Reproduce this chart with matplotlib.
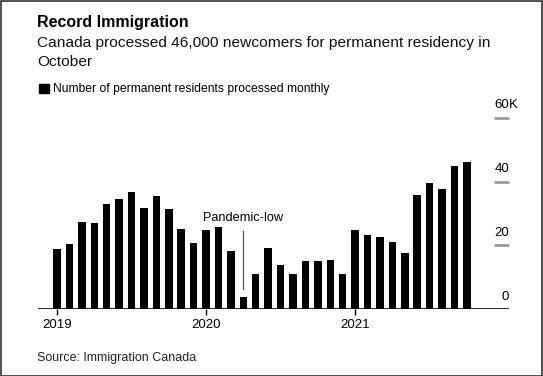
import numpy as np
import matplotlib.pyplot as plt
from matplotlib.patches import Rectangle

plt.rcParams['font.family'] = ['Liberation Sans', 'DejaVu Sans']

# monthly permanent residents processed, thousands (Jan 2019 - Oct 2021)
values = [18.8, 20.3, 27.2, 26.9, 33.1, 34.5, 36.6, 31.6, 35.6, 31.4, 25.0, 20.9,
          24.7, 25.9, 18.4, 4.0, 11.0, 19.1, 13.9, 11.2, 15.0, 15.0, 15.3, 10.9,
          24.7, 23.4, 22.6, 21.2, 17.5, 35.9, 39.7, 37.8, 45.0, 46.2]
year_labels = ['2019', '2020', '2021']
y_ticks = [0, 20, 40, 60]
low_month = 15  # April 2020

x = np.arange(len(values))

fig = plt.figure(figsize=(5.43, 3.76), dpi=100)
ax = fig.add_axes([38 / 543, 1 - 309.3 / 376, 471 / 543, 191.6 / 376])

ax.bar(x, values, width=0.6, color='black')
ax.set_xlim(-1.53, 36.39)
ax.set_ylim(0, 60)

for s in ax.spines.values():
    s.set_visible(False)
ax.axhline(0, color='black', lw=1.2, zorder=3)

ax.set_yticks([])
ax.set_xticks([0, 12, 24])
ax.set_xticklabels(year_labels, fontsize=9.5)
ax.tick_params(axis='x', length=4, width=1, color='black', pad=3)

# right side value ticks
ax.hlines(y_ticks[1:], 35.2, 36.39, color='#999999', lw=2, clip_on=False)
for v in y_ticks:
    ax.text(36.39, v + 2.0, str(v), ha='right', va='bottom', fontsize=9.5)
ax.text(36.39, 62.0, 'K', ha='left', va='bottom', fontsize=9.5)

# annotation
ax.plot([low_month, low_month], [6.5, 24.5], color='#555555', lw=0.9)
ax.text(low_month, 28.5, 'Pandemic-low', ha='center', va='center', fontsize=9.2)

fig.text(37 / 543, 1 - 23 / 376, 'Record Immigration', fontsize=11.5, fontweight='bold',
         va='center', ha='left')
fig.text(37 / 543, 1 - 43.5 / 376,
         'Canada processed 46,000 newcomers for permanent residency in',
         fontsize=11.15, va='center', ha='left', color='#111111')
fig.text(37 / 543, 1 - 62.5 / 376, 'October', fontsize=11.15, va='center', ha='left',
         color='#111111')
fig.add_artist(Rectangle((39 / 543, 1 - 93 / 376), 9.5 / 543, 9.5 / 376,
                         transform=fig.transFigure, color='black'))
fig.text(53 / 543, 1 - 89 / 376, 'Number of permanent residents processed monthly',
         fontsize=8.75, va='center', ha='left')
fig.text(37 / 543, 1 - 358 / 376, 'Source: Immigration Canada', fontsize=9,
         va='center', ha='left', color='#222222')

fig.add_artist(Rectangle((0.001, 0.001), 0.997, 0.996, transform=fig.transFigure,
                         fill=False, edgecolor='#333333', lw=1.2))

fig.savefig('out.png', dpi=100)
